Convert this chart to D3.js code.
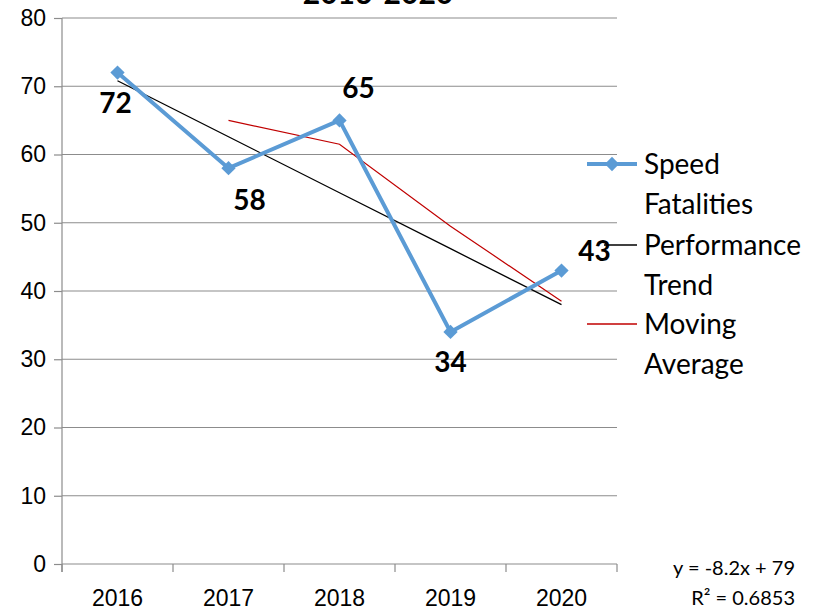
<!DOCTYPE html>
<html>
<head>
<meta charset="utf-8">
<script src="https://cdn.jsdelivr.net/npm/d3@7"></script>
<style>
  body { margin: 0; background: #fff; }
  svg { font-family: Lato, "Open Sans", sans-serif; }
</style>
</head>
<body>
<div id="chart"></div>
<script>
// data
const years = ["2016", "2017", "2018", "2019", "2020"];
const fatalities = [72, 58, 65, 34, 43];
const yTicks = [0, 10, 20, 30, 40, 50, 60, 70, 80];
const trendSlope = -8.2, trendIntercept = 79;
const trendLabel = ["y = -8.2x + 79", "R² = 0.6853"];
const legendLabels = [["Speed", "Fatalities"], ["Performance", "Trend"], ["Moving", "Average"]];
// where each data label sits relative to its point
const labelSpots = ["below", "belowRight", "aboveRight", "below", "aboveRight2"];

const W = 824, H = 615;
const margin = { top: 18, right: 207, bottom: 51, left: 62 };
const width = W - margin.left - margin.right,
      height = H - margin.top - margin.bottom;

const svg = d3.select("#chart").append("svg")
    .attr("width", W)
    .attr("height", H);

// title (only its bottom edge shows)
svg.append("text")
    .attr("x", 378)
    .attr("y", 4)
    .style("text-anchor", "middle")
    .style("font-size", "30px")
    .style("font-weight", "bold")
    .text("2016-2020");

const g = svg.append("g")
    .attr("transform", "translate(" + margin.left + "," + margin.top + ")");

const x = d3.scaleBand().domain(years).range([0, width]);
const y = d3.scaleLinear().domain([0, 80]).range([height, 0]);
const cx = d => x(d) + x.bandwidth() / 2;

// gridlines
g.selectAll(".grid")
    .data(yTicks.filter(t => t > 0))
    .enter().append("line")
    .attr("x1", 0).attr("x2", width)
    .attr("y1", d => y(d)).attr("y2", d => y(d))
    .attr("stroke", "#8c8c8c").attr("stroke-width", 1.2);

// axes
const yAxis = d3.axisLeft(y).tickValues(yTicks).tickSize(8).tickPadding(8);
const xAxis = d3.axisBottom(x).tickSize(0).tickPadding(26);

const gy = g.append("g").attr("class", "y-axis").call(yAxis);
const gx = g.append("g").attr("class", "x-axis")
    .attr("transform", "translate(0," + height + ")").call(xAxis);

g.selectAll(".domain").remove();
gy.selectAll("line").attr("stroke", "#8c8c8c").attr("stroke-width", 1.2);
g.append("line").attr("x1", 0).attr("x2", 0).attr("y1", 0).attr("y2", height + 8)
    .attr("stroke", "#8c8c8c").attr("stroke-width", 1.2);
g.append("line").attr("x1", 0).attr("x2", width).attr("y1", height).attr("y2", height)
    .attr("stroke", "#8c8c8c").attr("stroke-width", 1.2);
// category boundary ticks
g.selectAll(".xtick")
    .data(years.concat(["end"]))
    .enter().append("line")
    .attr("x1", (d, i) => i * x.step()).attr("x2", (d, i) => i * x.step())
    .attr("y1", height).attr("y2", height + 8)
    .attr("stroke", "#8c8c8c").attr("stroke-width", 1.2);

g.selectAll(".tick text").style("font-size", "23px").attr("fill", "#000");

// trend line
const trendPts = years.map((d, i) => [cx(d), y(trendSlope * (i + 1) + trendIntercept)]);
g.append("path")
    .attr("d", d3.line()(trendPts))
    .attr("fill", "none").attr("stroke", "#000").attr("stroke-width", 1.3);

// moving average (period 2)
const movAvg = fatalities.map((v, i) => i === 0 ? null : (v + fatalities[i - 1]) / 2);
g.append("path")
    .datum(years.map((d, i) => ({ year: d, v: movAvg[i] })).filter(d => d.v !== null))
    .attr("d", d3.line().x(d => cx(d.year)).y(d => y(d.v)))
    .attr("fill", "none").attr("stroke", "#c00000").attr("stroke-width", 1.2);

// series
const blue = "#5b9bd5";
g.append("path")
    .datum(years)
    .attr("d", d3.line().x(d => cx(d)).y((d, i) => y(fatalities[i])))
    .attr("fill", "none").attr("stroke", blue).attr("stroke-width", 4);

const diamond = d3.symbol().type(d3.symbolDiamond2).size(130);
g.selectAll(".pt")
    .data(years)
    .enter().append("path")
    .attr("d", diamond)
    .attr("transform", (d, i) => "translate(" + cx(d) + "," + y(fatalities[i]) + ")")
    .attr("fill", blue);

// data labels
const spot = {
    below: [0, 40],
    belowRight: [21, 42],
    aboveRight: [19, -22],
    aboveRight2: [33, -10]
};
g.selectAll(".dlabel")
    .data(years)
    .enter().append("text")
    .attr("x", (d, i) => cx(d) + spot[labelSpots[i]][0] + (i === 0 ? -2 : 0))
    .attr("y", (d, i) => y(fatalities[i]) + spot[labelSpots[i]][1])
    .style("text-anchor", "middle")
    .style("font-size", "28px")
    .style("font-weight", "bold")
    .text((d, i) => fatalities[i]);

// legend
const legendX = 587, legendTextX = 644;
const legendY = [164, 245, 324];
const leg = svg.append("g");
legendLabels.forEach((lines, k) => {
    const ly = legendY[k];
    const stroke = k === 0 ? blue : (k === 1 ? "#000" : "#c00000");
    leg.append("line")
        .attr("x1", k === 1 ? 604 : legendX).attr("x2", legendX + 50)
        .attr("y1", ly).attr("y2", ly)
        .attr("stroke", stroke).attr("stroke-width", k === 0 ? 4 : 1.3);
    if (k === 0) {
        leg.append("path").attr("d", diamond)
            .attr("transform", "translate(" + (legendX + 25) + "," + ly + ")")
            .attr("fill", blue);
    }
    lines.forEach((t, j) => {
        leg.append("text")
            .attr("x", legendTextX)
            .attr("y", ly + 10 + j * 40)
            .style("font-size", "28px")
            .text(t);
    });
});

// trendline equation
trendLabel.forEach((t, j) => {
    svg.append("text")
        .attr("x", 795)
        .attr("y", 575 + j * 30)
        .style("text-anchor", "end")
        .style("font-size", "20px")
        .text(t);
});
</script>
</body>
</html>
